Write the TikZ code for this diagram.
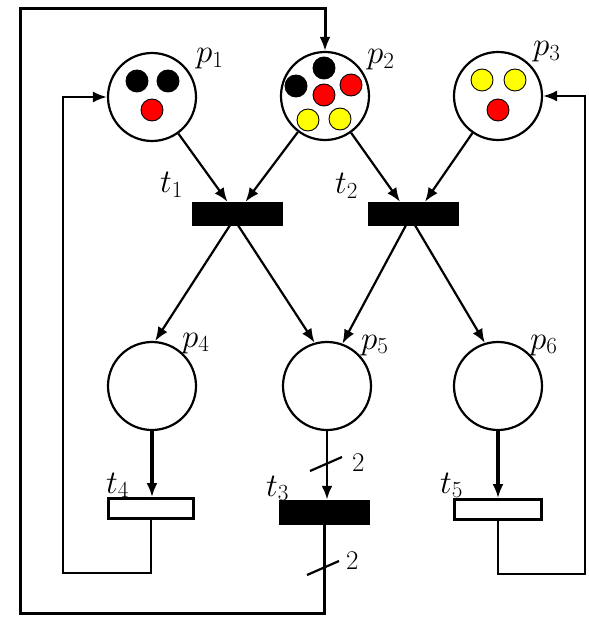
\RequirePackage{fix-cm}
\documentclass[tikz,border=0pt]{standalone}
\usetikzlibrary{arrows.meta}
\definecolor{tokred}{RGB}{255,0,0}
\definecolor{tokyellow}{RGB}{255,255,0}
\begin{document}
\begin{tikzpicture}[x=1pt,y=-1pt,
  place/.style={circle,draw,line width=2.2pt,minimum size=88pt,inner sep=0pt},
  fulltr/.style={rectangle,draw,fill=black,line width=0.5pt,minimum width=90pt,minimum height=23pt,inner sep=0pt},
  emptytr/.style={rectangle,draw,fill=white,line width=2.8pt,minimum width=85pt,minimum height=20pt,inner sep=0pt},
  tok/.style={circle,draw,line width=0.9pt,minimum size=22pt,inner sep=0pt},
  lbl/.style={anchor=base west,inner sep=0pt,font=\fontsize{33}{36}\selectfont},
  wlbl/.style={anchor=base west,inner sep=0pt,font=\fontsize{27}{30}\selectfont},
  arc/.style={line width=2.2pt,-{Latex[length=14pt,width=11pt]}},
  midarc/.style={line width=2.8pt,-{Latex[length=14pt,width=11pt]}},
  thickarc/.style={line width=3.8pt,-{Latex[length=14pt,width=11pt]}},
  outerloop/.style={line width=3pt,-{Latex[length=14pt,width=11pt]}},
  retloop/.style={line width=2.2pt,-{Latex[length=14pt,width=11pt]}},
  tick/.style={line width=2.2pt}
]
\useasboundingbox (0,0) rectangle (588,617);

% places
\node[place] (p1) at (152,97) {};
\node[place] (p2) at (325,96) {};
\node[place] (p3) at (498,96) {};
\node[place] (p4) at (152,386) {};
\node[place] (p5) at (327,386) {};
\node[place] (p6) at (498,386) {};

% tokens
\node[tok,fill=black] (k11) at (137,81) {};
\node[tok,fill=black] (k12) at (168,81) {};
\node[tok,fill=tokred] (k13) at (152,110) {};
\node[tok,fill=black] (k21) at (324,68) {};
\node[tok,fill=black] (k22) at (296,86) {};
\node[tok,fill=tokred] (k23) at (324,95) {};
\node[tok,fill=tokred] (k24) at (351,85) {};
\node[tok,fill=tokyellow] (k25) at (308,120) {};
\node[tok,fill=tokyellow] (k26) at (340,119) {};
\node[tok,fill=tokyellow] (k31) at (482,80) {};
\node[tok,fill=tokyellow] (k32) at (515,80) {};
\node[tok,fill=tokred] (k33) at (498,110) {};

% transitions
\node[fulltr] (t1) at (237.5,213.5) {};
\node[fulltr] (t2) at (413,213.5) {};
\node[fulltr,minimum height=24pt] (t3) at (324.5,512) {};
\node[emptytr] (t4) at (151,508.5) {};
\node[emptytr,minimum width=87pt] (t5) at (498,509.5) {};

% labels
\node[lbl] (lp1) at (196,63) {$p_1$};
\node[lbl] (lp2) at (367,64) {$p_2$};
\node[lbl] (lp3) at (533,56) {$p_3$};
\node[lbl] (lp4) at (182,347) {$p_4$};
\node[lbl] (lp5) at (361,349) {$p_5$};
\node[lbl] (lp6) at (530,349) {$p_6$};
\node[lbl] (lt1) at (160,193) {$t_1$};
\node[lbl] (lt2) at (335,194) {$t_2$};
\node[lbl] (lt3) at (266,496) {$t_3$};
\node[lbl] (lt4) at (106,493) {$t_4$};
\node[lbl] (lt5) at (440,493) {$t_5$};

% arcs
\draw[arc] (p1) -- ([xshift=-10pt]t1.north);
\draw[arc] (p2) -- ([xshift=8pt]t1.north);
\draw[arc] (p2) -- ([xshift=-13pt]t2.north);
\draw[arc] (p3) -- ([xshift=12pt]t2.north);
\draw[arc] ([xshift=-7.5pt]t1.south) -- (p4.86);
\draw[arc] ([xshift=0.5pt]t1.south) -- (p5.106);
\draw[arc] ([xshift=-7pt]t2.south) -- (p5.70);
\draw[arc] ([xshift=2pt]t2.south) -- (p6.107);

\draw[thickarc] (p4.south) -- (p4.south |- t4.north);
\draw[midarc] (p5.south) -- (p5.south |- t3.north);
\draw[thickarc] (p6.south) -- (p6.south |- t5.north);

% weights
\coordinate (w1) at (326,464);
\draw[tick] ([shift={(-16,7)}]w1) -- ([shift={(16,-7)}]w1);
\node[wlbl] (n1) at (352,471) {2};
\coordinate (w2) at (323,568);
\draw[tick] ([shift={(-16,7)}]w2) -- ([shift={(16,-7)}]w2);
\node[wlbl] (n2) at (346,569) {2};

% return loops
\draw[outerloop] (t3.south) |- (20,613) -- (20,9) -| (p2.north);
\draw[retloop] (t4.south) |- (63,573) |- (p1.west);
\draw[retloop] (t5.south) |- (585,574) |- (p3.east);
\end{tikzpicture}
\end{document}
